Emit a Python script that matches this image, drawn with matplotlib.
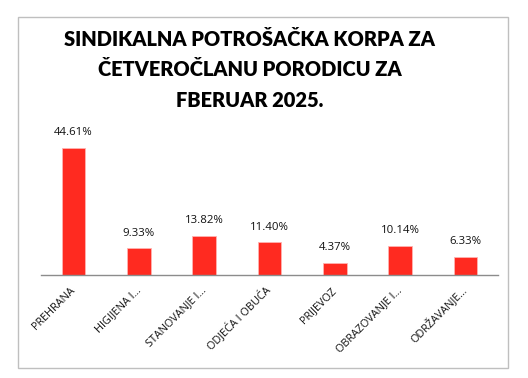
import matplotlib
matplotlib.use("Agg")
import matplotlib.pyplot as plt
from matplotlib.patches import Rectangle

categories = ["PREHRANA", "HIGIJENA I...", "STANOVANJE I...", "ODJEĆA I OBUĆA",
              "PRIJEVOZ", "OBRAZOVANJE I...", "ODRŽAVANJE..."]
values = [44.61, 9.33, 13.82, 11.40, 4.37, 10.14, 6.33]
title_lines = ["SINDIKALNA POTROŠAČKA KORPA ZA", "ČETVEROČLANU PORODICU ZA", "FBERUAR 2025."]

W, H = 528, 378
fig = plt.figure(figsize=(W / 100, H / 100), dpi=100)
fig.patch.set_facecolor("white")

# border
fig.add_artist(Rectangle((18 / W, 1 - 368 / H), 490 / W, 351 / H, transform=fig.transFigure,
                         fill=False, edgecolor="#bfbfbf", linewidth=1.0))

# axes: x 41..498, bottom at y=275, top at y=132.3 (ylim 0..50)
left, right, bottom, top = 41, 498, 275, 132.3
ax = fig.add_axes([left / W, 1 - bottom / H, (right - left) / W, (bottom - top) / H])
x = list(range(len(categories)))
ax.bar(x, values, width=0.36, color="#ff2a20", edgecolor="#ffb3b0", linewidth=0.6)
ax.set_xlim(-0.5, len(categories) - 0.5)
ax.set_ylim(0, 50)
for xi, v in zip(x, values):
    ax.annotate(f"{v:.2f}%", (xi, v), xytext=(0, 7), textcoords="offset points",
                ha="center", va="bottom", fontsize=8.2, family="Open Sans", color="#111111")
for s in ["top", "right", "left"]:
    ax.spines[s].set_visible(False)
ax.spines["bottom"].set_color("#8c8c8c")
ax.spines["bottom"].set_linewidth(1.0)
ax.set_yticks([])
ax.set_xticks(x)
ax.set_xticklabels(categories, rotation=45, ha="right", va="center", rotation_mode="anchor",
                   fontsize=7.8, family="Open Sans", color="#111111")
ax.tick_params(axis="x", length=0, pad=10)

ys = [46, 76.5, 107]
for line, y in zip(title_lines, ys):
    fig.text(249.5 / W, 1 - y / H, line, ha="center", va="baseline", fontsize=14.4,
             fontweight="heavy", family="Lato", color="black")

fig.savefig("out.png", dpi=100)
